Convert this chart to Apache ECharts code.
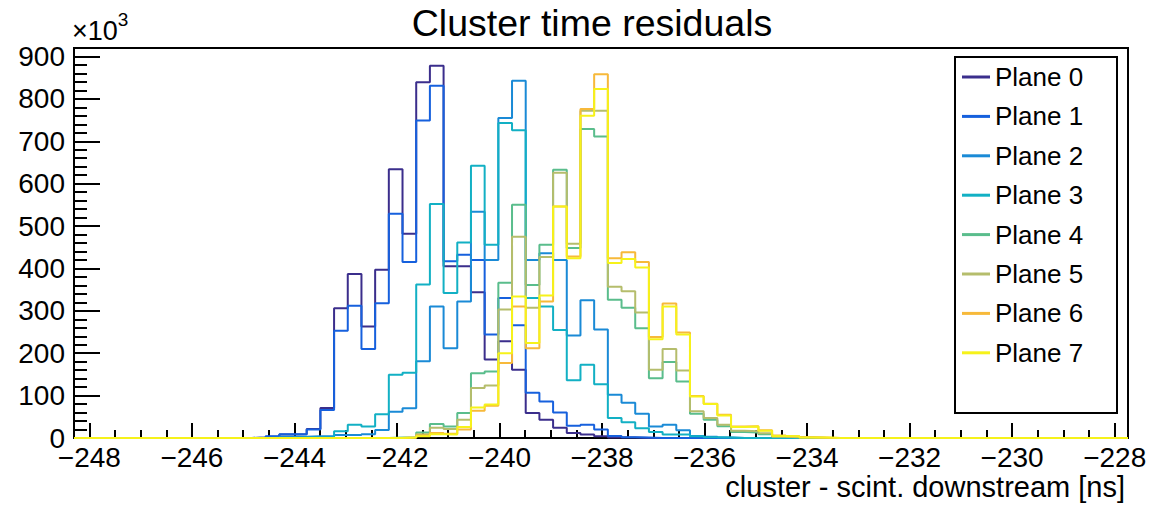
<!DOCTYPE html>
<html><head><meta charset="utf-8">
<script src="https://cdn.jsdelivr.net/npm/echarts@6/dist/echarts.min.js"></script>
<style>html,body{margin:0;padding:0;background:#fff}#c{width:1159px;height:505px}</style>
</head><body><div id="c"></div>
<script>
// ---- data (values in thousands of entries) ----
const chartTitle = 'Cluster time residuals';
const xTitle = 'cluster - scint. downstream [ns]';
const xMin = -248.30, xMax = -227.74, nBins = 77;
const firstBin = 13; // index of first listed bin
const xTicks = [-248, -246, -244, -242, -240, -238, -236, -234, -232, -230, -228];
const yTicks = [0, 100, 200, 300, 400, 500, 600, 700, 800, 900];
const planeNames = ['Plane 0', 'Plane 1', 'Plane 2', 'Plane 3', 'Plane 4', 'Plane 5', 'Plane 6', 'Plane 7'];
const planeColors = ['#3b2e8c', '#1660dd', '#1a8ad6', '#12b0c4', '#5abd8c', '#b5bd6c', '#f7b93a', '#f6f21a'];
const plane0 = [1, 3, 8, 9, 21, 71, 306, 387, 263, 397, 634, 482, 839, 878, 405, 405, 344, 185, 228, 161, 59, 43, 24, 12, 8, 4, 1, 1];
const plane1 = [1, 4, 9, 9, 20, 66, 253, 312, 210, 318, 529, 415, 749, 831, 417, 432, 420, 244, 330, 266, 107, 86, 60, 29, 31, 20, 5, 2, 1];
const plane2 = [0, 1, 3, 3, 4, 5, 7, 7, 9, 19, 62, 70, 181, 310, 212, 322, 534, 420, 755, 843, 420, 436, 420, 242, 325, 256, 102, 83, 57, 27, 31, 18, 5, 3, 1];
const plane3 = [0, 0, 0, 1, 1, 2, 16, 31, 27, 56, 149, 154, 362, 552, 342, 461, 642, 456, 743, 726, 330, 310, 255, 136, 173, 127, 47, 37, 23, 14, 8, 8, 4, 2, 1];
const plane4 = [0, 0, 0, 0, 0, 0, 0, 0, 0, 0, 1, 2, 13, 33, 27, 59, 153, 157, 366, 550, 361, 456, 633, 448, 729, 711, 326, 307, 259, 141, 179, 133, 57, 43, 28, 14, 13, 9, 3, 2, 1, 0];
const plane5 = [0, 0, 0, 0, 0, 0, 0, 0, 0, 0, 0, 1, 9, 24, 21, 43, 118, 124, 303, 475, 307, 427, 626, 458, 772, 772, 357, 346, 296, 161, 210, 159, 63, 47, 31, 17, 16, 11, 3, 2, 1, 0];
const plane6 = [0, 0, 0, 0, 0, 0, 0, 0, 0, 0, 0, 1, 6, 12, 10, 20, 64, 76, 177, 310, 212, 322, 546, 428, 776, 858, 424, 438, 415, 238, 317, 249, 99, 81, 55, 27, 28, 18, 6, 4, 2, 1];
const plane7 = [0, 0, 0, 0, 0, 0, 0, 0, 0, 0, 0, 1, 4, 9, 8, 26, 72, 79, 200, 334, 224, 336, 546, 424, 760, 823, 413, 422, 402, 233, 310, 244, 98, 80, 53, 26, 27, 17, 5, 4, 1, 1];
const planes = [plane0, plane1, plane2, plane3, plane4, plane5, plane6, plane7];

// ---- build ----
const FONT = 'Liberation Sans, Arial, sans-serif';
const binW = (xMax - xMin) / nBins;
function histPoints(vals) {
  const pts = [];
  for (let i = 0; i < nBins; i++) {
    const j = i - firstBin;
    const v = (j >= 0 && j < vals.length) ? vals[j] : 0;
    pts.push([xMin + i * binW, v]);
  }
  pts.push([xMax, pts[pts.length - 1][1]]);
  return pts;
}
const minorX = [];
for (let t = xTicks[0]; t <= xTicks[xTicks.length - 1] + 1e-9; t += (xTicks[1] - xTicks[0]) / 4) minorX.push(+t.toFixed(3));
const fmtMinus = v => String(v).replace('-', '\u2212');

const series = planes.map((vals, i) => ({
  name: planeNames[i], type: 'line', step: 'end', xAxisIndex: 0,
  showSymbol: false, symbol: 'none', animation: false,
  lineStyle: { color: planeColors[i], width: 2 }, itemStyle: { color: planeColors[i] },
  data: histPoints(vals)
}));

const chart = echarts.init(document.getElementById('c'), null, { renderer: 'svg' });
chart.setOption({
  backgroundColor: '#fff',
  animation: false,
  title: { text: chartTitle, left: 587, top: -1, textAlign: 'center',
    textStyle: { fontFamily: FONT, fontSize: 37.5, fontWeight: 'normal', color: '#000' } },
  grid: { left: 74, right: 31, top: 48, bottom: 67, show: true, borderColor: '#000', borderWidth: 2, backgroundColor: 'transparent' },
  legend: {
    orient: 'vertical', left: 957, top: 59, itemGap: 13.4, itemWidth: 28, itemHeight: 3,
    icon: 'rect', data: planeNames,
    textStyle: { fontFamily: FONT, fontSize: 26, color: '#000', padding: [0, 0, 0, 0] }
  },
  xAxis: [{
    type: 'value', min: xMin, max: xMax, position: 'bottom',
    axisLine: { show: true, onZero: false, lineStyle: { color: '#000', width: 2 } },
    axisTick: { show: true, inside: true, length: 15, customValues: xTicks, lineStyle: { color: '#000', width: 2 } },
    axisLabel: { show: true, customValues: xTicks, formatter: fmtMinus, margin: 5,
      fontFamily: FONT, fontSize: 28, color: '#000' },
    splitLine: { show: false }
  }, {
    type: 'value', min: xMin, max: xMax, position: 'bottom', offset: 0,
    axisLine: { show: false },
    axisTick: { show: true, inside: true, length: 8, customValues: minorX, lineStyle: { color: '#000', width: 2 } },
    axisLabel: { show: false },
    splitLine: { show: false }
  }],
  yAxis: {
    type: 'value', min: 0, max: 920, interval: 100,
    axisLine: { show: true, lineStyle: { color: '#000', width: 2 } },
    axisTick: { show: true, inside: true, length: 26, lineStyle: { color: '#000', width: 2 } },
    minorTick: { show: true, splitNumber: 5, length: 13, lineStyle: { color: '#000', width: 2 } },
    axisLabel: { showMaxLabel: true, margin: 9, fontFamily: FONT, fontSize: 28, color: '#000',
      formatter: v => (yTicks.indexOf(v) >= 0 ? String(v) : '') },
    splitLine: { show: false }
  },
  graphic: [
    { type: 'text', left: 72, top: 10, style: { text: '{a|\u00d710}{b|3}', fill: '#000',
      rich: { a: { fontFamily: FONT, fontSize: 27, verticalAlign: 'bottom', lineHeight: 34 }, b: { fontFamily: FONT, fontSize: 19, verticalAlign: 'top', lineHeight: 34 } } } },
    { type: 'text', right: 34, top: 472, style: { text: xTitle, fill: '#000', fontFamily: FONT, fontSize: 29 } },
    { type: 'rect', shape: { x: 955, y: 57, width: 162, height: 356 }, style: { fill: 'none', stroke: '#000', lineWidth: 2 }, z: 1 }
  ],
  series: series
});
</script></body></html>
